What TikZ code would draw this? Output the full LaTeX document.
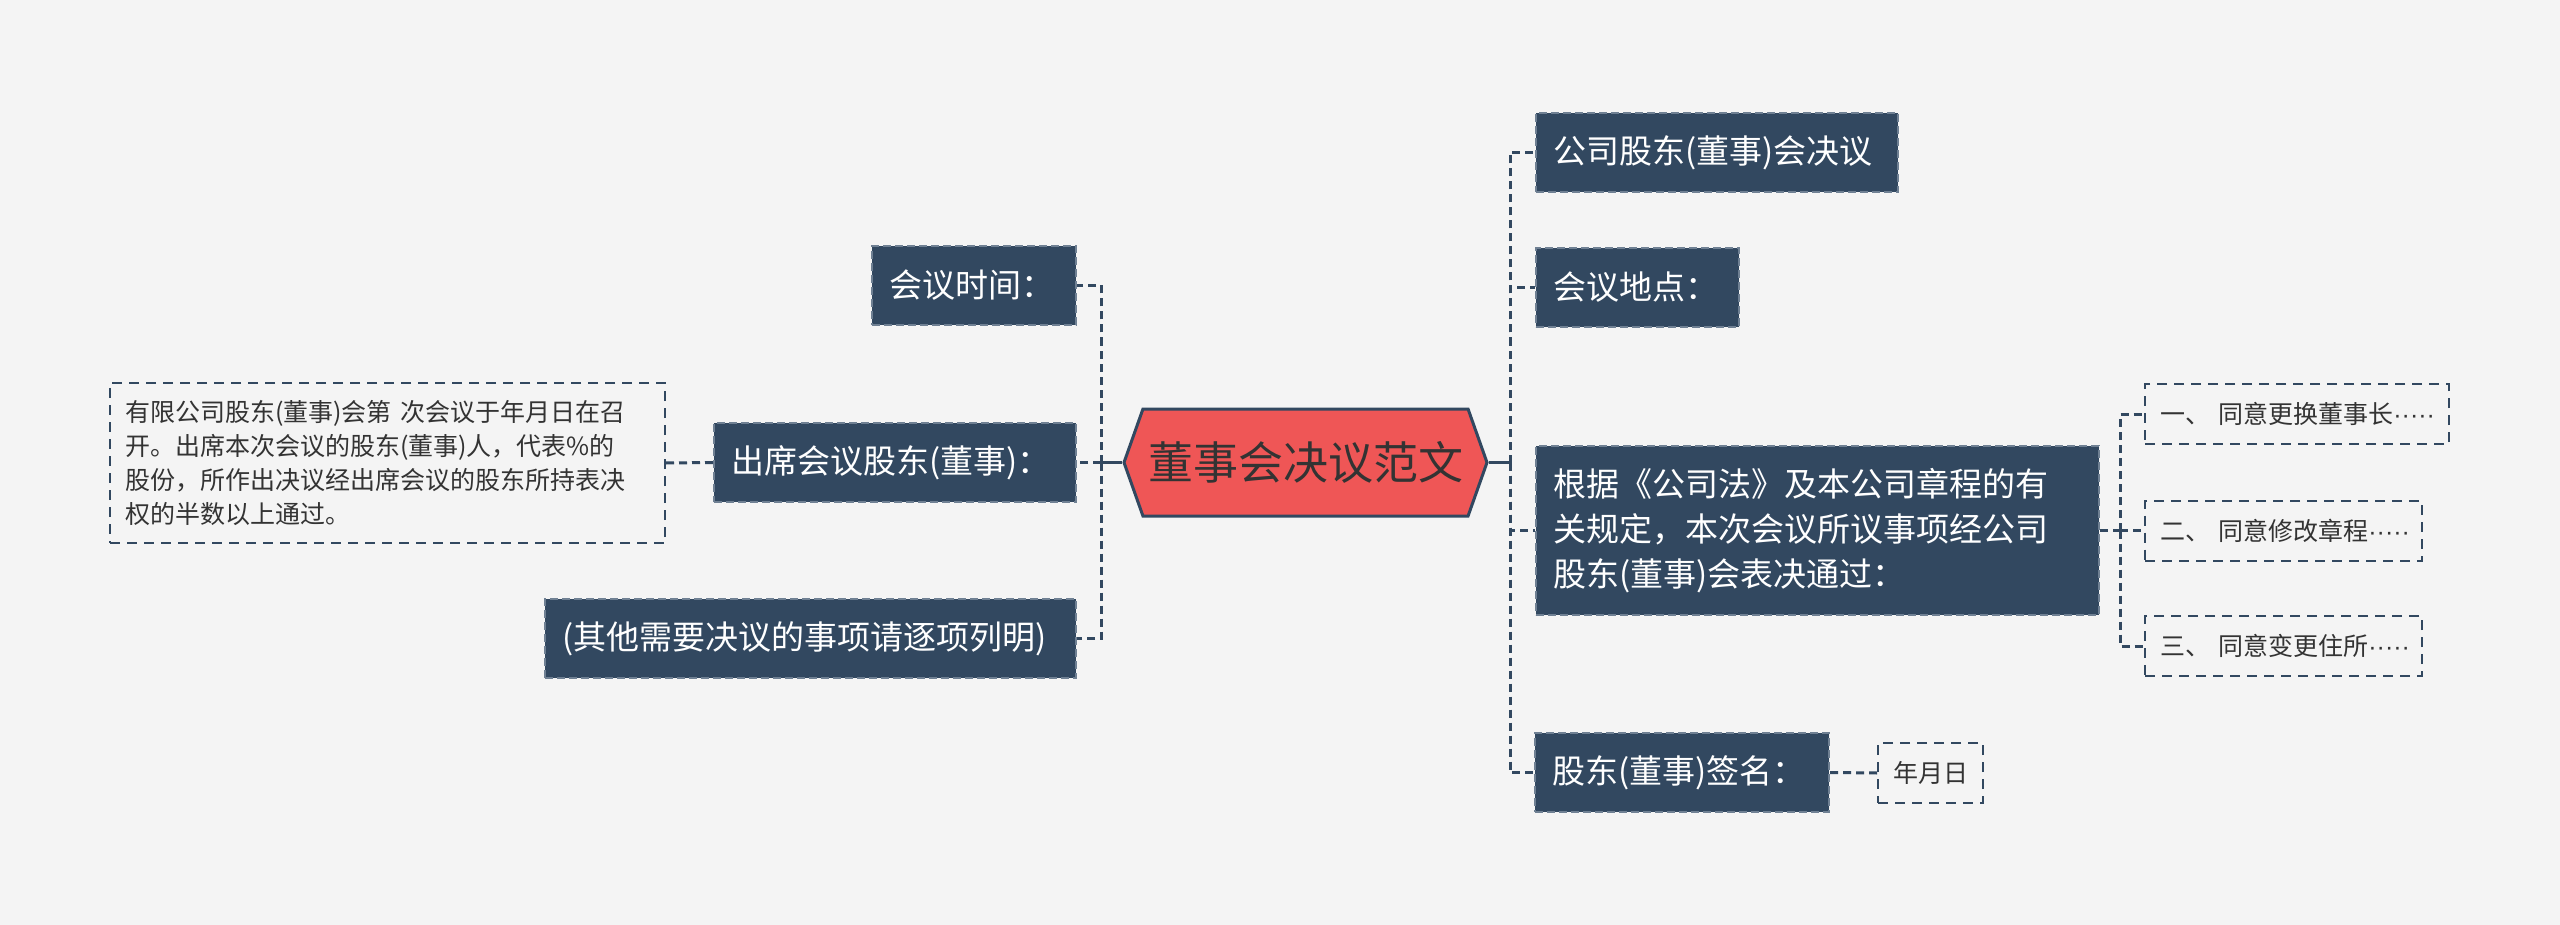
\documentclass[tikz,border=0pt]{standalone}
\usepackage{fontspec}
\newfontfamily\cjk{Noto Sans CJK SC}
\newfontfamily\latinfont{Liberation Sans}
\usetikzlibrary{shapes.symbols}
\definecolor{bg}{HTML}{F4F4F4}
\definecolor{navy}{HTML}{324860}
\definecolor{navyedge}{HTML}{6F8093}
\definecolor{redfill}{HTML}{EF5656}
\definecolor{txt}{HTML}{333333}
\newcommand{\dotsrow}{{\latinfont ·····}}
\tikzset{
  darknode/.style={rectangle, fill=navy, draw=navyedge, line width=1pt,
    dash pattern=on 4pt off 2pt, text=white,
    font=\cjk\fontsize{16.5}{22.5}\selectfont, inner xsep=8.5pt, inner ysep=0pt,
    align=left, minimum height=39.5pt},
  lightnode/.style={rectangle, draw=navy, line width=1pt,
    dash pattern=on 5pt off 3.5pt, text=txt,
    font=\cjk\fontsize{12.5}{17}\selectfont, inner xsep=7.5pt, inner ysep=0pt,
    align=left, minimum height=30pt},
  conn/.style={draw=navy, line width=1.5pt, dash pattern=on 4pt off 2.5pt},
  solidconn/.style={draw=navy, line width=1.5pt},
  rootnode/.style={signal, signal to=east and west, signal pointer angle=141,
    fill=redfill, draw=navy, line width=1.5pt, text=txt,
    font=\cjk\fontsize{22.5}{26}\selectfont, inner sep=0pt,
    minimum width=181.5pt, minimum height=53.5pt}
}
\begin{document}
\begin{tikzpicture}[x=0.5pt,y=-0.5pt]
\fill[bg] (0,0) rectangle (2560,925);
\useasboundingbox (0,0) rectangle (2560,925);

% root
\node[rootnode] (c) at (1305.5,462.5) {董事会决议范文};

% left branch
\node[darknode, anchor=east, text width=85pt] (time) at (1077,285.5) {会议时间：};
\node[darknode, anchor=east, text width=164pt] (attend) at (1077,462.5) {出席会议股东(董事)：};
\node[darknode, anchor=east, text width=248.5pt] (other) at (1077,638.5) {(其他需要决议的事项请逐项列明)};
\node[lightnode, anchor=east, text width=262.5pt, minimum height=80pt, inner xsep=7.5pt] (detail) at (666,463)
  {有限公司股东(董事)会第 次会议于年月日在召\\开。出席本次会议的股东(董事)人，代表\%的\\股份，所作出决议经出席会议的股东所持表决\\权的半数以上通过。};

% right branch
\node[darknode, anchor=west, text width=164pt] (title) at (1535,152.5) {公司股东(董事)会决议};
\node[darknode, anchor=west, text width=84.5pt] (place) at (1535,287.5) {会议地点：};
\node[darknode, anchor=west, text width=264.5pt, minimum height=84.5pt] (big) at (1535,530.5)
  {根据《公司法》及本公司章程的有\\关规定，本次会议所议事项经公司\\股东(董事)会表决通过：};
\node[darknode, anchor=west, text width=130pt] (sig) at (1534,772.5) {股东(董事)签名：};
\node[lightnode, anchor=west, text width=37.5pt] (ymd) at (1877,773) {年月日};
\node[lightnode, anchor=west, text width=137pt] (s1) at (2144,414) {一、~同意更换董事长\dotsrow};
\node[lightnode, anchor=west, text width=123.5pt] (s2) at (2144,530.5) {二、~同意修改章程\dotsrow};
\node[lightnode, anchor=west, text width=123.5pt] (s3) at (2144,646) {三、~同意变更住所\dotsrow};

% junctions
\coordinate (lj) at (1101,462.5);
\coordinate (rj) at (1510,462.5);
\coordinate (sj) at (2120,530.5);

\draw[solidconn] (c.west) -- (lj);
\draw[solidconn] (c.east) -- (rj);

\draw[conn] (lj) |- (time.east);
\draw[conn] (lj) -- (attend.east);
\draw[conn] (lj) |- (other.east);
\draw[conn] (attend.west) -- (detail.east);

\draw[conn] (rj) |- (title.west);
\draw[conn] (rj) |- (place.west);
\draw[conn] (rj) |- (big.west);
\draw[conn] (rj) |- (sig.west);
\draw[conn] (sig.east) -- (ymd.west);

\draw[conn] (big.east) -- (sj);
\draw[conn] (sj) |- (s1.west);
\draw[conn] (sj) -- (s2.west);
\draw[conn] (sj) |- (s3.west);
\end{tikzpicture}
\end{document}
